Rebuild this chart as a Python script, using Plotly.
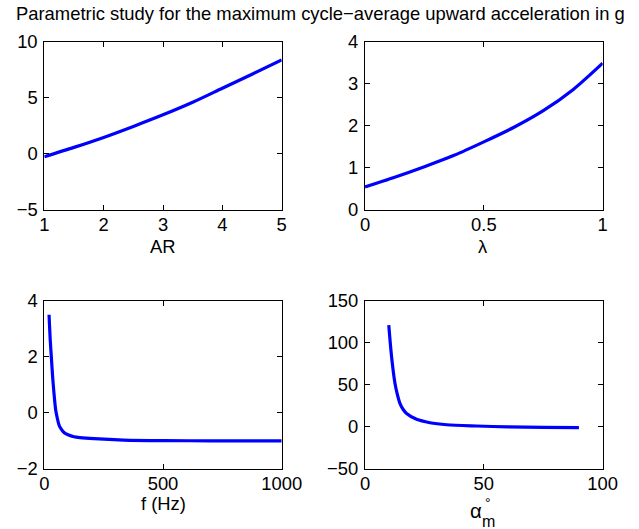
import plotly.graph_objects as go

# Aspect ratio sweep
ar_vals = [1, 1.5, 2, 2.5, 3, 3.5, 4, 4.5, 5]
ar_acc = [-0.25, 0.58, 1.47, 2.45, 3.48, 4.6, 5.85, 7.1, 8.38]

# Taper ratio sweep
lam_vals = [0, 0.125, 0.25, 0.375, 0.5, 0.625, 0.75, 0.875, 1]
lam_acc = [0.55, 0.78, 1.03, 1.3, 1.62, 1.96, 2.36, 2.86, 3.49]

# Flapping frequency sweep (Hz)
freq_vals = [20, 25, 30, 35, 40, 48, 55, 62, 70, 83, 100, 125, 150, 210, 335, 500, 700, 1000]
freq_acc = [3.5, 2.6, 1.95, 1.3, 0.78, 0.1, -0.2, -0.43, -0.56, -0.7, -0.78, -0.85,
            -0.88, -0.92, -0.97, -0.99, -0.995, -1.0]

# Mean angle of attack sweep (deg)
alpha_vals = [10, 11.2, 12.6, 13.5, 14.7, 16, 17.5, 21.7, 27.3, 34.4, 47, 60, 75, 90]
alpha_acc = [121, 83, 52, 40, 28, 21, 16, 9, 5, 2.6, 1.1, 0, -0.5, -0.8]

W, H = 639, 529
FONT = "Liberation Sans, Arial, Helvetica, sans-serif"
FS = 18.4
BLUE = "rgb(0,0,255)"


def px_x(p):
    return p / W


def px_y(p):
    return 1 - p / H


col_dom = [[px_x(44.3), px_x(281.7)], [px_x(365), px_x(602.7)]]
row_dom = [[px_y(210), px_y(41.7)], [px_y(469), px_y(300.7)]]

panels = [
    (ar_vals, ar_acc, col_dom[0], row_dom[0], [1, 5], 1, [-5, 10], 5),
    (lam_vals, lam_acc, col_dom[1], row_dom[0], [0, 1], 0.5, [0, 4], 1),
    (freq_vals, freq_acc, col_dom[0], row_dom[1], [0, 1000], 500, [-2, 4], 2),
    (alpha_vals, alpha_acc, col_dom[1], row_dom[1], [0, 100], 50, [-50, 150], 50),
]

fig = go.Figure()
layout = {}
for i, (xs, ys, xd, yd, xr, xdt, yr, ydt) in enumerate(panels, start=1):
    sx = "" if i == 1 else str(i)
    fig.add_trace(go.Scatter(x=xs, y=ys, mode="lines",
                             line=dict(color=BLUE, width=3.2, shape="spline", smoothing=0.8),
                             xaxis="x" + sx, yaxis="y" + sx, showlegend=False))
    common = dict(showline=True, linecolor="black", linewidth=1, mirror="ticks",
                  ticks="inside", ticklen=5, tickcolor="black", showgrid=False,
                  zeroline=False, tickfont=dict(family=FONT, size=FS, color="black"),
                  fixedrange=True, automargin=False)
    layout["xaxis" + sx] = dict(domain=xd, range=xr, dtick=xdt, tick0=xr[0],
                                anchor="y" + sx, ticklabelstandoff=-2, **common)
    layout["yaxis" + sx] = dict(domain=yd, range=yr, dtick=ydt, tick0=yr[0],
                                anchor="x" + sx, ticklabelstandoff=2, **common)

fig.update_layout(**layout)

annotations = [
    dict(text="Parametric study for the maximum cycle\u2212average upward acceleration in g",
         x=px_x(320), y=px_y(13), font=dict(size=FS)),
    dict(text="AR", x=px_x(163), y=px_y(246.5), font=dict(size=FS)),
    dict(text="\u03bb", x=px_x(483), y=px_y(246), font=dict(size=FS)),
    dict(text="f (Hz)", x=px_x(163), y=px_y(503), font=dict(size=FS)),
    dict(text="\u03b1", x=px_x(476), y=px_y(511), font=dict(size=FS + 2)),
    dict(text="\u00b0", x=px_x(487.5), y=px_y(503), font=dict(size=14)),
    dict(text="m", x=px_x(488.5), y=px_y(521.5), font=dict(size=16)),
]
for a in annotations:
    a.update(xref="paper", yref="paper", showarrow=False, xanchor="center",
             yanchor="middle")
    a["font"].update(family=FONT, color="black")

fig.update_layout(annotations=annotations, width=W, height=H,
                  margin=dict(l=0, r=0, t=0, b=0, autoexpand=False),
                  paper_bgcolor="white", plot_bgcolor="white",
                  font=dict(family=FONT, size=FS, color="black"))

fig.write_html("out.html", config={"displayModeBar": False})
